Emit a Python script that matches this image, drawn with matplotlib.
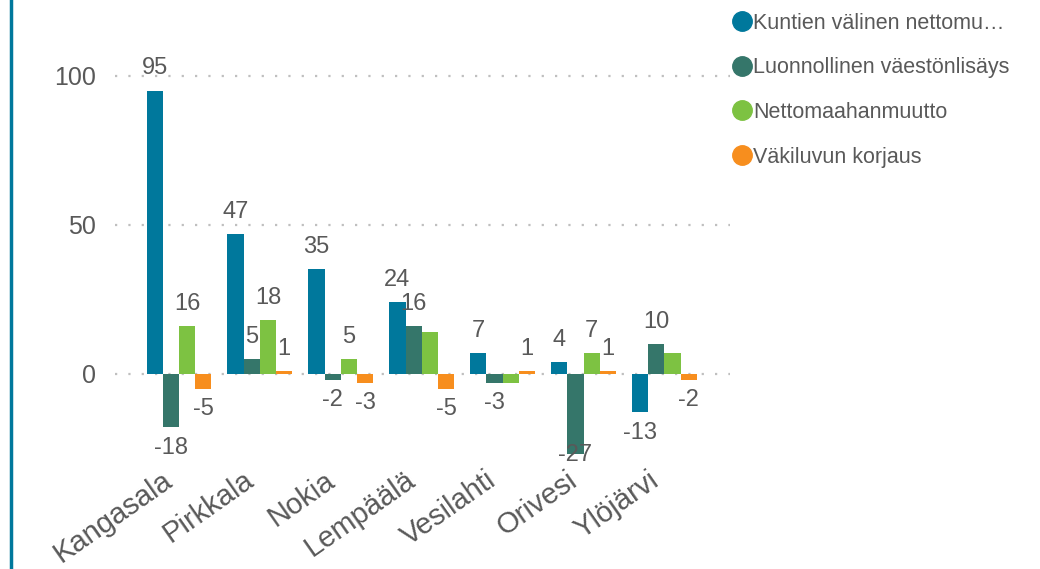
import matplotlib.pyplot as plt
from matplotlib.lines import Line2D
from matplotlib.transforms import ScaledTranslation
import numpy as np

plt.rcParams['font.family'] = ['Liberation Sans', 'DejaVu Sans']

# data
kunnat = ['Kangasala', 'Pirkkala', 'Nokia', 'Lempäälä', 'Vesilahti', 'Orivesi', 'Ylöjärvi']
sarjat = ['Kuntien välinen nettomu…', 'Luonnollinen väestönlisäys',
          'Nettomaahanmuutto', 'Väkiluvun korjaus']
kuntien_valinen = [95, 47, 35, 24, 7, 4, -13]
luonnollinen = [-18, 5, -2, 16, -3, -27, 10]
maahanmuutto = [16, 18, 5, 14, -3, 7, 7]
korjaus = [-5, 1, -3, -5, 1, 1, -2]
# labels that the original chart hides because they overlap
piilotetut = {(3, 2), (4, 2), (6, 2)}

varit = ['#00789C', '#35766A', '#7DC242', '#F78E1E']
tekstivari = '#595959'

fig = plt.figure(figsize=(10.4, 5.69), dpi=100)
ax = fig.add_axes([115 / 1040, 1 - 469 / 569, 615 / 1040, 438 / 569])
y_ala, y_yla = -32, 115

x = np.arange(len(kunnat))
w = 0.2
arvot = [kuntien_valinen, luonnollinen, maahanmuutto, korjaus]
for i, (sarja, vals) in enumerate(zip(sarjat, arvot)):
    pos = x + (i - 1.5) * w
    ax.bar(pos, vals, width=w, color=varit[i], label=sarja, zorder=2)
    for j, v in enumerate(vals):
        if (j, i) in piilotetut:
            continue
        if v >= 0:
            ax.annotate(str(v), (pos[j], v), xytext=(0, 8), textcoords='offset points',
                        ha='center', va='bottom', fontsize=17, color=tekstivari, zorder=3)
        elif v - 11.5 < y_ala:
            # no room below the bar: keep the label inside the plot area
            ax.annotate(str(v), (pos[j], y_ala), xytext=(0, 2), textcoords='offset points',
                        ha='center', va='bottom', fontsize=17, color=tekstivari, zorder=3)
        else:
            ax.annotate(str(v), (pos[j], v), xytext=(0, -7), textcoords='offset points',
                        ha='center', va='top', fontsize=17, color=tekstivari, zorder=3)

ax.set_xlim(-0.79, 6.81)
ax.set_ylim(y_ala, y_yla)
ax.set_yticks([0, 50, 100])
for yv in [0, 50, 100]:
    ax.axhline(yv, color='#BFBFBF', lw=1.6, ls=(0, (1, 5)), zorder=1)

ax.set_xticks(x)
ax.set_xticklabels(kunnat, rotation=35, ha='right', va='center', rotation_mode='anchor',
                   fontsize=21, color=tekstivari)
ax.tick_params(axis='x', length=0, pad=6)
siirto = ScaledTranslation(-9 / 100, 0, fig.dpi_scale_trans)
for lbl in ax.get_xticklabels():
    lbl.set_transform(lbl.get_transform() + siirto)
ax.tick_params(axis='y', length=0, pad=14, labelsize=18, labelcolor=tekstivari)
for s in ax.spines.values():
    s.set_visible(False)

kahvat = [Line2D([], [], marker='o', ls='', markersize=14, color=c) for c in varit]
leg = ax.legend(kahvat, sarjat, loc='upper left', bbox_to_anchor=(724 / 1040, 1 - 4 / 569),
                bbox_transform=fig.transFigure, frameon=False, fontsize=15.5,
                handletextpad=0.05, handlelength=0.9, labelspacing=1.1,
                borderaxespad=0)
for t in leg.get_texts():
    t.set_color(tekstivari)

fig.add_artist(Line2D([11 / 1040, 11 / 1040], [0, 1], color='#00789C', lw=2.5,
                      transform=fig.transFigure))

fig.savefig('out.png', dpi=100)
